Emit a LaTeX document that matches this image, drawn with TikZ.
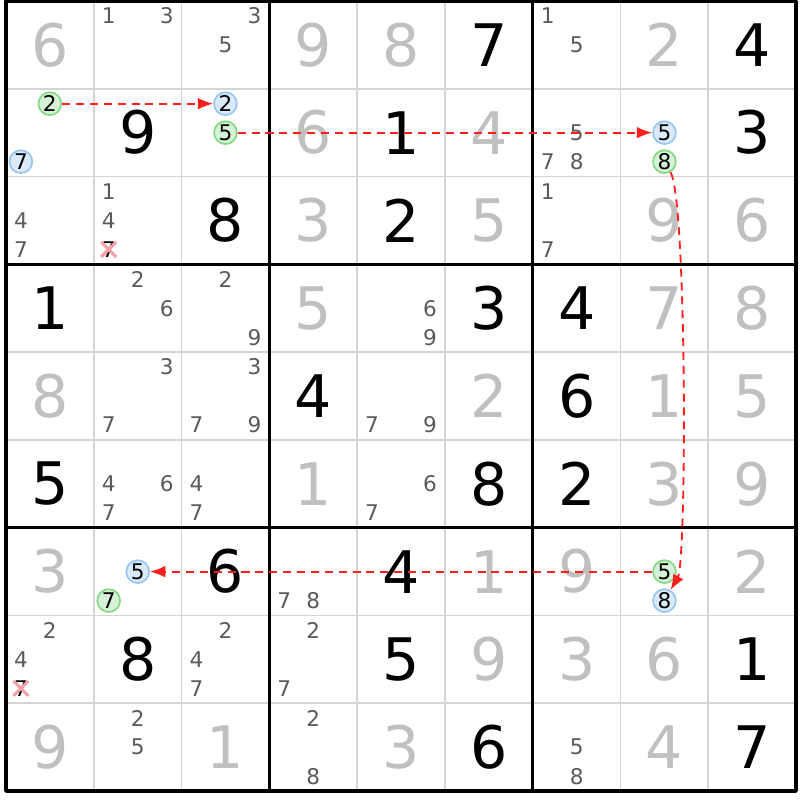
\documentclass[tikz,border=0pt]{standalone}
\usepackage{fontspec}
\setmainfont{DejaVu Sans}
\usetikzlibrary{arrows.meta}
\definecolor{solvedgray}{HTML}{C0C0C0}
\definecolor{candgray}{HTML}{5A5A5A}
\definecolor{thingrid}{HTML}{D4D4D4}
\definecolor{chaingreen}{HTML}{86D886}
\definecolor{chaingreenfill}{HTML}{D6F2D6}
\definecolor{chainblue}{HTML}{98C6F2}
\definecolor{chainbluefill}{HTML}{DAEAFB}
\definecolor{linkred}{HTML}{FF1E1E}
\definecolor{elimred}{HTML}{F4A0A6}
\begin{document}
\begin{tikzpicture}[>={Latex[length=5pt,width=3.8pt]},line join=bevel,
  given/.style={font=\fontsize{19}{19}\selectfont,inner sep=0pt},
  solved/.style={given,text=solvedgray},
  cand/.style={font=\fontsize{7}{7}\selectfont,text=candgray,inner sep=0pt},
  oncand/.style={cand,text=black,circle,draw=chaingreen,fill=chaingreenfill,line width=0.55pt,minimum size=0.26cm},
  offcand/.style={oncand,draw=chainblue,fill=chainbluefill},
  link/.style={draw=linkred,dash pattern=on 2.6pt off 1.9pt,line width=0.6pt,->},
  elim/.style={elimred,line width=1pt},
  ]
%%
\fill[white] (-0.068,0.011) rectangle (9.044,-9.101);
\useasboundingbox (-0.068,0.011) rectangle (9.044,-9.101);
%
\foreach \i in {1,2,4,5,7,8} {
  \draw[thingrid,line width=0.6pt] (\i,0) -- (\i,-9);
  \draw[thingrid,line width=0.6pt] (0,-\i) -- (9,-\i);
}
\foreach \i in {3,6} {
  \draw[line width=1pt] (\i,0) -- (\i,-9);
  \draw[line width=1pt] (0,-\i) -- (9,-\i);
}
\draw[line width=1.2pt] (0,0) rectangle (9,-9);
%
\foreach \r/\c/\d in {1/6/7,1/9/4,2/2/9,2/5/1,2/9/3,3/3/8,3/5/2,4/1/1,4/6/3,4/7/4,5/4/4,
    5/7/6,6/1/5,6/6/8,6/7/2,7/3/6,7/5/4,8/2/8,8/5/5,8/9/1,9/6/6,9/9/7}
  \node[given] (g\r\c) at (\c-0.5,0.5-\r) {\d};
\foreach \r/\c/\d in {1/1/6,1/4/9,1/5/8,1/8/2,2/4/6,2/6/4,3/4/3,3/6/5,3/8/9,3/9/6,4/4/5,
    4/8/7,4/9/8,5/1/8,5/6/2,5/8/1,5/9/5,6/4/1,6/8/3,6/9/9,7/1/3,7/6/1,7/7/9,7/9/2,
    8/6/9,8/7/3,8/8/6,9/1/9,9/3/1,9/5/3,9/8/4}
  \node[solved] (g\r\c) at (\c-0.5,0.5-\r) {\d};
%
\foreach \r/\c/\ds in {1/2/{1,3},1/3/{3,5},1/7/{1,5},2/7/{5,7,8},3/1/{4,7},3/2/{1,4},
    3/7/{1,7},4/2/{2,6},4/3/{2,9},4/5/{6,9},5/2/{3,7},5/3/{3,7,9},5/5/{7,9},6/2/{4,6,7},
    6/3/{4,7},6/5/{6,7},7/4/{7,8},8/1/{2,4},8/3/{2,4,7},8/4/{2,7},9/2/{2,5},9/4/{2,8},
    9/7/{5,8}}
  \foreach \d in \ds
    \node[cand] (k\r\c\d) at ({\c-0.5+0.33*(mod(\d-1,3)-1)},{0.5-\r-0.33*(floor((\d-1)/3)-1)}) {\d};
%
\node[cand,text=black] (k327) at (1.17,-2.83) {7};
\node[cand,text=black] (k817) at (0.17,-7.83) {7};
\draw[elim] ([shift={(-0.085,0.085)}]k327.center) -- ([shift={(0.085,-0.085)}]k327.center);
\draw[elim] ([shift={(-0.085,-0.085)}]k327.center) -- ([shift={(0.085,0.085)}]k327.center);
\draw[elim] ([shift={(-0.085,0.085)}]k817.center) -- ([shift={(0.085,-0.085)}]k817.center);
\draw[elim] ([shift={(-0.085,-0.085)}]k817.center) -- ([shift={(0.085,0.085)}]k817.center);
%
\node[oncand] (k212) at (0.5,-1.17) {2};
\node[offcand] (k217) at (0.17,-1.83) {7};
\node[offcand] (k232) at (2.5,-1.17) {2};
\node[oncand] (k235) at (2.5,-1.5) {5};
\node[offcand] (k285) at (7.5,-1.5) {5};
\node[oncand] (k288) at (7.5,-1.83) {8};
\node[offcand] (k725) at (1.5,-6.5) {5};
\node[oncand] (k727) at (1.17,-6.83) {7};
\node[oncand] (k785) at (7.5,-6.5) {5};
\node[offcand] (k788) at (7.5,-6.83) {8};
%
\draw[link] (k212) -- (k232);
\draw[link] (k235) -- (k285);
\draw[link] (k288) to[out=-60,in=60,looseness=0.2] (k788);
\draw[link] (k785) -- (k725);
%
\end{tikzpicture}
\end{document}
